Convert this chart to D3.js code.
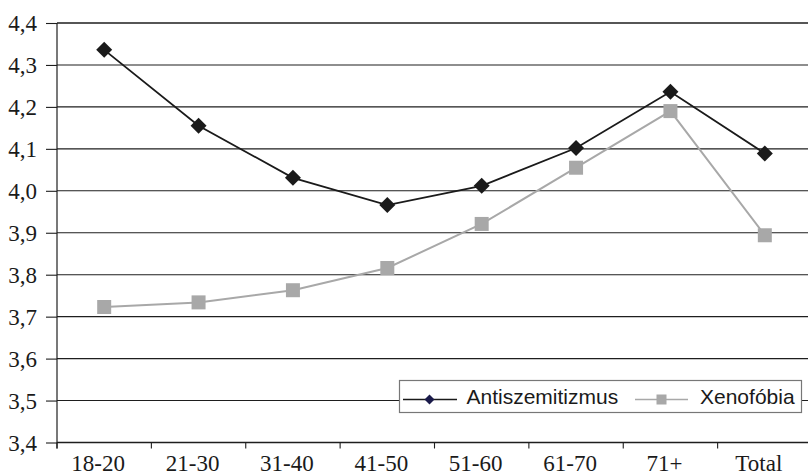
<!DOCTYPE html>
<html>
<head>
<meta charset="utf-8">
<script src="https://cdn.jsdelivr.net/npm/d3@7"></script>
<style>
  html, body { margin: 0; padding: 0; background: #fff; }
  svg { display: block; }
  .serif { font-family: "Liberation Serif", "Times New Roman", Times, "Nimbus Roman", "DejaVu Serif", serif; }
  .sans { font-family: "Liberation Sans", Arial, Helvetica, sans-serif; }
</style>
</head>
<body>
<svg id="chart" width="808" height="475"></svg>
<script>
const categories = ["18-20", "21-30", "31-40", "41-50", "51-60", "61-70", "71+", "Total"];
const antiszemitizmus = [4.336, 4.155, 4.031, 3.966, 4.012, 4.102, 4.236, 4.089];
const xenofobia = [3.723, 3.734, 3.763, 3.816, 3.921, 4.055, 4.190, 3.894];
const yTicks = [3.4, 3.5, 3.6, 3.7, 3.8, 3.9, 4.0, 4.1, 4.2, 4.3, 4.4];
const seriesNames = ["Antiszemitizmus", "Xenofóbia"];

(function () {
const svg = d3.select("#chart");
const mLeft = 57, mRight = 812, mTop = 23, mBottom = 442.5;

const x = d3.scaleBand().domain(categories).range([mLeft, mRight]).padding(0);
const y = d3.scaleLinear().domain([3.4, 4.4]).range([mBottom, mTop]);
const fmt = v => d3.format(".1f")(v).replace(".", ",");

// gridlines
svg.append("g").selectAll("line").data(yTicks.filter(v => v > 3.4)).join("line")
  .attr("x1", mLeft).attr("x2", 808)
  .attr("y1", d => y(d)).attr("y2", d => y(d))
  .attr("stroke", "#1e1e1e").attr("stroke-width", d => d === 4.4 ? 1.4 : 1.1);

// y axis
const yAxis = svg.append("g").attr("transform", `translate(${mLeft},0)`)
  .call(d3.axisLeft(y).tickValues(yTicks).tickSize(11).tickFormat(fmt))
  .attr("font-family", null).attr("font-size", null);
yAxis.select(".domain").remove();
yAxis.selectAll(".tick line").attr("stroke", "#1e1e1e").attr("stroke-width", 1.1);
yAxis.selectAll(".tick text")
  .attr("class", "serif")
  .style("font-size", "23px").attr("fill", "#1a1a1a")
  .attr("x", -20).attr("dy", "0.33em");
svg.append("line").attr("x1", mLeft).attr("x2", mLeft).attr("y1", mTop).attr("y2", mBottom + 6)
  .attr("stroke", "#1e1e1e").attr("stroke-width", 1.2);

// x axis
svg.append("line").attr("x1", mLeft).attr("x2", 808).attr("y1", mBottom).attr("y2", mBottom)
  .attr("stroke", "#1e1e1e").attr("stroke-width", 1.3);
svg.append("g").selectAll("line").data(categories).join("line")
  .attr("x1", d => x(d)).attr("x2", d => x(d))
  .attr("y1", mBottom).attr("y2", mBottom + 6)
  .attr("stroke", "#1e1e1e").attr("stroke-width", 1.1);
svg.append("g").selectAll("text").data(categories).join("text")
  .attr("class", "serif")
  .attr("x", d => x(d) + x.bandwidth() / 2 - 6)
  .attr("y", 471)
  .attr("text-anchor", "middle")
  .style("font-size", "23px").attr("fill", "#1a1a1a")
  .text(d => d);

const cx = (d, i) => x(categories[i]) + x.bandwidth() / 2;
const line = d3.line().x((d, i) => cx(d, i)).y(d => y(d));

// Xenofobia
svg.append("path").datum(xenofobia).attr("d", line)
  .attr("fill", "none").attr("stroke", "#a8a8a8").attr("stroke-width", 2);
svg.append("g").selectAll("rect").data(xenofobia).join("rect")
  .attr("x", (d, i) => cx(d, i) - 7).attr("y", d => y(d) - 7)
  .attr("width", 14).attr("height", 14).attr("fill", "#a8a8a8");

// Antiszemitizmus
svg.append("path").datum(antiszemitizmus).attr("d", line)
  .attr("fill", "none").attr("stroke", "#1a1a1a").attr("stroke-width", 1.8);
const diamond = (s) => `M0,${-s}L${s},0L0,${s}L${-s},0Z`;
svg.append("g").selectAll("path").data(antiszemitizmus).join("path")
  .attr("transform", (d, i) => `translate(${cx(d, i)},${y(d)})`)
  .attr("d", diamond(8)).attr("fill", "#1a1a1a");

// legend
const lg = svg.append("g");
lg.append("rect").attr("x", 399.5).attr("y", 380.5).attr("width", 402).attr("height", 32)
  .attr("fill", "#fff").attr("stroke", "#777").attr("stroke-width", 1.2);
const ly = 399.5;
lg.append("line").attr("x1", 403).attr("x2", 457).attr("y1", ly).attr("y2", ly)
  .attr("stroke", "#1a1a1a").attr("stroke-width", 1.6);
lg.append("path").attr("transform", `translate(429.5,${ly})`).attr("d", diamond(5))
  .attr("fill", "#1a1a4a");
lg.append("text").attr("class", "sans").attr("x", 466.5).attr("y", 403.5)
  .style("font-size", "21px").attr("fill", "#1a1a1a").text(seriesNames[0]);
lg.append("line").attr("x1", 635).attr("x2", 688).attr("y1", ly).attr("y2", ly)
  .attr("stroke", "#a8a8a8").attr("stroke-width", 1.6);
lg.append("rect").attr("x", 661.5 - 5).attr("y", ly - 5).attr("width", 10).attr("height", 10)
  .attr("fill", "#a8a8a8");
lg.append("text").attr("class", "sans").attr("x", 700).attr("y", 403.5)
  .style("font-size", "21px").attr("fill", "#1a1a1a").text(seriesNames[1]);
})();
</script>
</body>
</html>
